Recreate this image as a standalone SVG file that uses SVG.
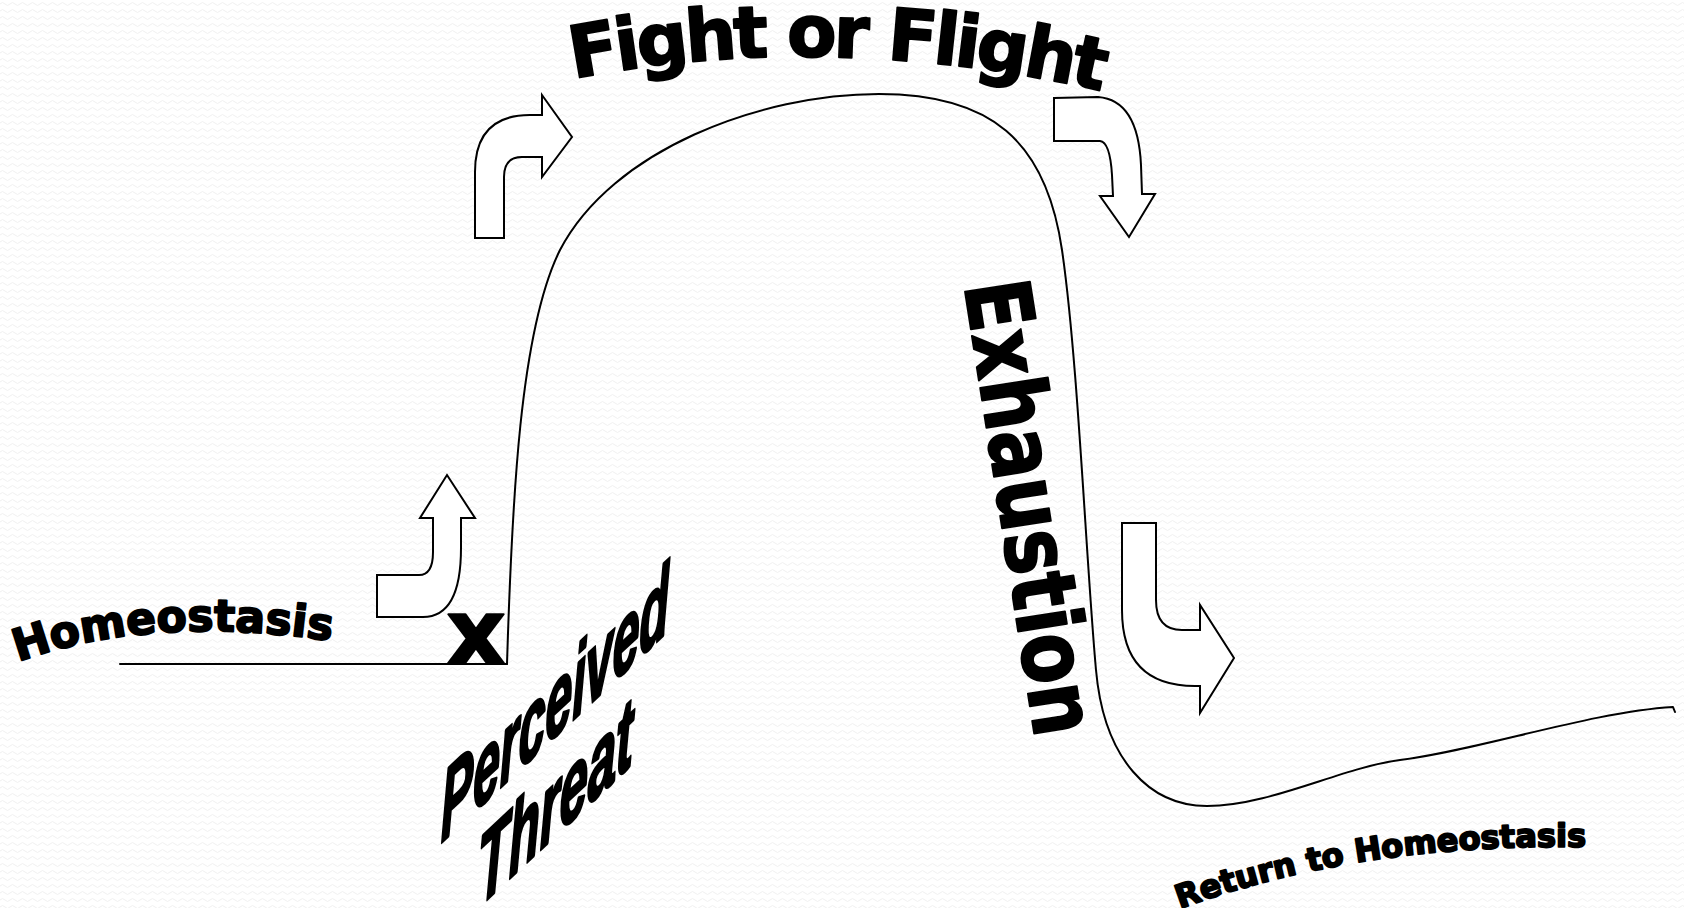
<svg xmlns="http://www.w3.org/2000/svg" width="1684" height="908" viewBox="0 0 1684 908">
<style>
.bg{fill:#ffffff}
.line{fill:none;stroke:#000;stroke-width:2;stroke-linecap:round;stroke-linejoin:round}
.arrow{fill:#ffffff;stroke:#000;stroke-width:2;stroke-linejoin:miter}
.heavy{font-family:"DejaVu Sans","Liberation Sans",sans-serif;font-weight:bold;fill:#000;stroke:#000;stroke-width:2;stroke-linejoin:round}
.ital{font-family:"Liberation Sans",Arial,sans-serif;font-weight:bold;font-style:italic;fill:#000;stroke:#000;stroke-width:1.6;stroke-linejoin:round}
</style>
<defs>
<pattern id="wave" width="10" height="7" patternUnits="userSpaceOnUse">
<path d="M0,4 Q2.5,1 5,4 T10,4" fill="none" stroke="#ececec" stroke-width="0.8"/>
</pattern>
<path id="arcFight" d="M566,80 Q830,28 1106,92"/>
<path id="arcHome" d="M12,664 Q150,612 338,642"/>
<path id="arcReturn" d="M1182,908 Q1360,843 1584,847"/>
</defs>
<rect class="bg" x="0" y="0" width="1684" height="908"/>
<rect x="0" y="0" width="1684" height="908" fill="url(#wave)"/>

<g id="connectors">
<path id="baseline" class="line" d="M120,664 L507,664"/>
<path id="stress-curve" class="line" d="M507,664 C512,500 520,330 560,250 C612,150 760,94 879,94 C990,94 1046,140 1062,250 C1078,360 1086,560 1096,670 C1104,760 1150,806 1207,806 C1270,806 1340,768 1400,760 C1480,750 1590,712 1673,707 L1675,712"/>
</g>

<g id="arrow-up">
<path class="arrow" d="M377,575 L419,575 Q433,575 433,552 L433,518 L420,518 L447,475 L475,518 L461,518 L461,548 Q461,617 423,617 L377,617 Z"/>
</g>
<g id="arrow-rise">
<path class="arrow" d="M475,238 L475,172 Q475,115 530,115 L542,115 L542,95 L572,137 L542,177 L542,157 L522,157 Q504,157 504,177 L504,238 Z"/>
</g>
<g id="arrow-fall">
<path class="arrow" d="M1054,98 L1098,97 Q1138,100 1141,165 L1142,194 L1155,194 L1129,237 L1100,196 L1113,196 L1112,175 Q1110,142 1100,141 L1054,141 Z"/>
</g>
<g id="arrow-return">
<path class="arrow" d="M1122,523 L1122,610 Q1122,686 1195,686 L1200,686 L1200,713 L1234,658 L1200,605 L1200,630 L1182,630 Q1156,630 1156,600 L1156,523 Z"/>
</g>

<g id="label-fight">
<text class="heavy" font-size="72" stroke-width="3.5" letter-spacing="-3.5"><textPath href="#arcFight" startOffset="50%" text-anchor="middle">Fight or Flight</textPath></text>
</g>
<g id="label-homeostasis">
<text class="heavy" font-size="44" stroke-width="2"><textPath href="#arcHome" startOffset="50%" text-anchor="middle">Homeostasis</textPath></text>
</g>
<g id="label-return">
<text class="heavy" font-size="32" stroke-width="1.8"><textPath href="#arcReturn" startOffset="50%" text-anchor="middle">Return to Homeostasis</textPath></text>
</g>
<g id="label-exhaustion">
<text class="heavy" font-size="90" stroke-width="3" transform="translate(964,285) rotate(81.1)" textLength="460" lengthAdjust="spacingAndGlyphs">Exhaustion</text>
</g>
<g id="label-x">
<text class="heavy" font-size="90" stroke-width="2" x="446" y="664" textLength="60" lengthAdjust="spacingAndGlyphs">x</text>
</g>
<g id="label-threat">
<text class="ital" font-size="46" transform="translate(441,843) skewY(-43) scale(1,2.15)" textLength="228" lengthAdjust="spacingAndGlyphs">Perceived</text>
<text class="ital" font-size="46" transform="translate(478,908) skewY(-43) scale(1,2.15)" textLength="155" lengthAdjust="spacingAndGlyphs">Threat</text>
</g>
</svg>
